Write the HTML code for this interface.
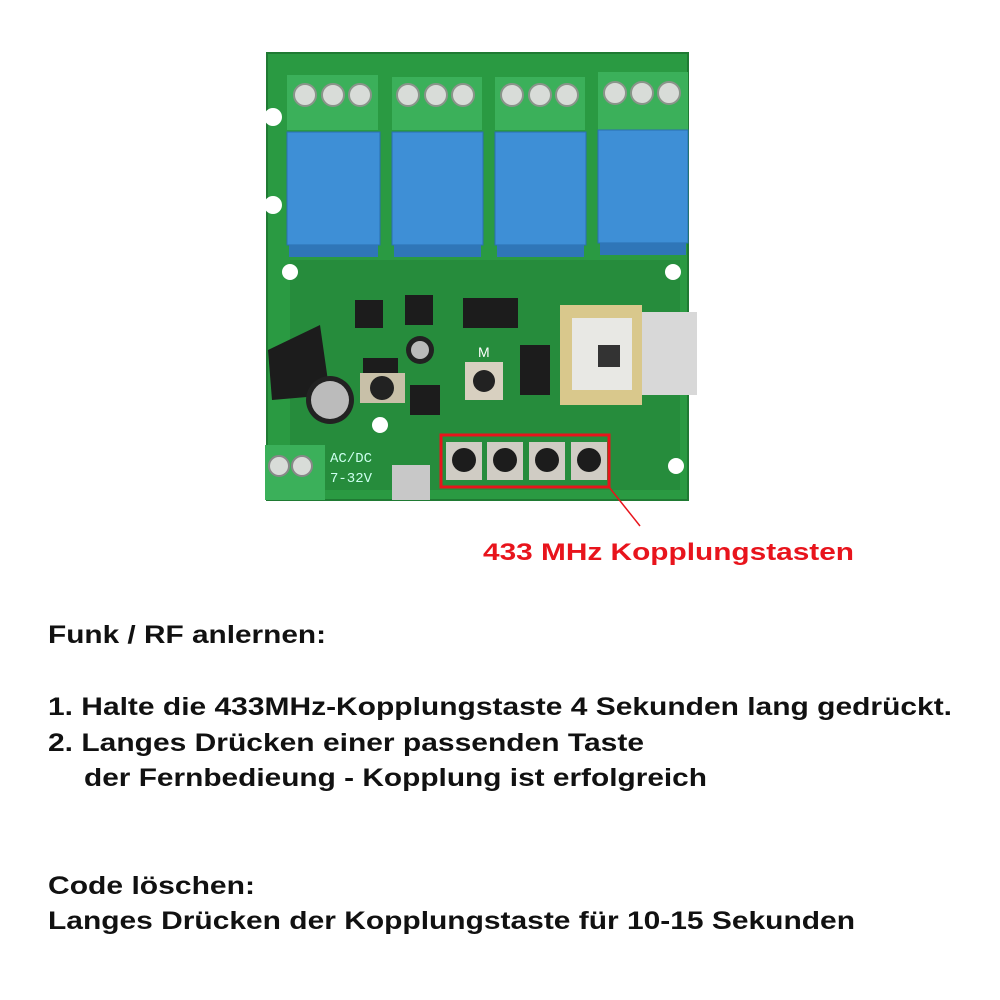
<!DOCTYPE html>
<html><head><meta charset="utf-8"><style>
html,body{margin:0;padding:0;background:#fff;}
svg{display:block}
</style></head><body>
<svg width="1000" height="1000" viewBox="0 0 1000 1000" xmlns="http://www.w3.org/2000/svg">
<!-- board -->
<polygon points="267,53 688,53 688,312 697,312 697,392 688,392 688,500 267,500" fill="#2a9a42"/>
<rect x="267" y="53" width="421" height="447" fill="none" stroke="#1f7a33" stroke-width="2"/>
<rect x="290" y="260" width="390" height="230" fill="#25863a" opacity="0.7"/>
<!-- mounting holes -->
<g fill="#fff"><circle cx="273" cy="117" r="9"/><circle cx="273" cy="205" r="9"/><circle cx="290" cy="272" r="8"/><circle cx="673" cy="272" r="8"/><circle cx="380" cy="425" r="8"/><circle cx="676" cy="466" r="8"/></g>
<!-- terminals & relays -->
<g>
<rect x="287" y="75" width="91" height="55" fill="#3bb05a"/>
<rect x="392" y="77" width="90" height="53" fill="#3bb05a"/>
<rect x="495" y="77" width="90" height="53" fill="#3bb05a"/>
<rect x="598" y="72" width="90" height="58" fill="#3bb05a"/>
<g fill="#d8dcd8" stroke="#8a948a" stroke-width="2">
<circle cx="305" cy="95" r="11"/><circle cx="333" cy="95" r="11"/><circle cx="360" cy="95" r="11"/>
<circle cx="408" cy="95" r="11"/><circle cx="436" cy="95" r="11"/><circle cx="463" cy="95" r="11"/>
<circle cx="512" cy="95" r="11"/><circle cx="540" cy="95" r="11"/><circle cx="567" cy="95" r="11"/>
<circle cx="615" cy="93" r="11"/><circle cx="642" cy="93" r="11"/><circle cx="669" cy="93" r="11"/>
</g>
<g fill="#3e8fd6" stroke="#2a6fb0" stroke-width="1">
<rect x="287" y="132" width="93" height="113"/>
<rect x="392" y="132" width="91" height="113"/>
<rect x="495" y="132" width="91" height="113"/>
<rect x="598" y="130" width="90" height="113"/>
</g>
<g fill="#2f76b8"><rect x="289" y="245" width="89" height="12"/><rect x="394" y="245" width="87" height="12"/><rect x="497" y="245" width="87" height="12"/><rect x="600" y="243" width="86" height="12"/></g>
</g>
<!-- components -->
<g fill="#1c1c1c">
<rect x="355" y="300" width="28" height="28"/><rect x="405" y="295" width="28" height="30"/>
<rect x="463" y="298" width="55" height="30"/><rect x="520" y="345" width="30" height="50"/>
<rect x="410" y="385" width="30" height="30"/><rect x="363" y="358" width="35" height="18"/>
<path d="M268,350 L320,325 L330,395 L272,400 Z"/>
</g>
<circle cx="420" cy="350" r="14" fill="#222"/><circle cx="420" cy="350" r="9" fill="#bbb"/>
<circle cx="330" cy="400" r="24" fill="#222"/><circle cx="330" cy="400" r="19" fill="#bbb"/>
<rect x="360" y="373" width="45" height="30" fill="#c8c0a8"/><circle cx="382" cy="388" r="12" fill="#222"/>
<rect x="465" y="362" width="38" height="38" fill="#d8d0c0"/><circle cx="484" cy="381" r="11" fill="#222"/>
<text x="478" y="357" font-family="Liberation Sans,sans-serif" font-size="14" fill="#fff">M</text>
<!-- module -->
<rect x="640" y="312" width="57" height="83" fill="#d8d8d8"/>
<rect x="560" y="305" width="82" height="100" fill="#d9c88c"/>
<rect x="572" y="318" width="60" height="72" fill="#e8e8e4"/>
<rect x="598" y="345" width="22" height="22" fill="#333"/>
<!-- bottom left terminal -->
<rect x="265" y="445" width="60" height="55" fill="#3bb05a"/>
<circle cx="279" cy="466" r="10" fill="#d8dcd8" stroke="#888" stroke-width="2"/>
<circle cx="302" cy="466" r="10" fill="#d8dcd8" stroke="#888" stroke-width="2"/>
<text x="330" y="462" font-family="Liberation Mono,monospace" font-size="14" fill="#cfe">AC/DC</text>
<text x="330" y="482" font-family="Liberation Mono,monospace" font-size="14" fill="#cfe">7-32V</text>
<rect x="392" y="465" width="38" height="35" fill="#c8c8c8"/>
<!-- buttons -->
<g>
<rect x="446" y="442" width="36" height="38" fill="#d0ccc4"/><circle cx="464" cy="460" r="12" fill="#1c1c1c"/>
<rect x="487" y="442" width="36" height="38" fill="#d0ccc4"/><circle cx="505" cy="460" r="12" fill="#1c1c1c"/>
<rect x="529" y="442" width="36" height="38" fill="#d0ccc4"/><circle cx="547" cy="460" r="12" fill="#1c1c1c"/>
<rect x="571" y="442" width="36" height="38" fill="#d0ccc4"/><circle cx="589" cy="460" r="12" fill="#1c1c1c"/>
</g>
<rect x="441" y="435" width="168" height="52" fill="none" stroke="#e8141c" stroke-width="3"/>
<line x1="609" y1="487" x2="640" y2="526" stroke="#e8141c" stroke-width="1.5"/>
<text x="483" y="560" font-family="Liberation Sans,sans-serif" font-weight="bold" font-size="24" fill="#e8141c" textLength="371" lengthAdjust="spacingAndGlyphs">433 MHz Kopplungstasten</text>
<g font-family="Liberation Sans,sans-serif" font-weight="bold" font-size="25" fill="#111">
<text x="48" y="643" textLength="278" lengthAdjust="spacingAndGlyphs">Funk / RF anlernen:</text>
<text x="48" y="715" textLength="904" lengthAdjust="spacingAndGlyphs">1. Halte die 433MHz-Kopplungstaste 4 Sekunden lang gedrückt.</text>
<text x="48" y="751" textLength="596" lengthAdjust="spacingAndGlyphs">2. Langes Drücken einer passenden Taste</text>
<text x="84" y="786" textLength="623" lengthAdjust="spacingAndGlyphs">der Fernbedieung - Kopplung ist erfolgreich</text>
<text x="48" y="894" textLength="207" lengthAdjust="spacingAndGlyphs">Code löschen:</text>
<text x="48" y="929" textLength="807" lengthAdjust="spacingAndGlyphs">Langes Drücken der Kopplungstaste für 10-15 Sekunden</text>
</g>
</svg>
</body></html>
